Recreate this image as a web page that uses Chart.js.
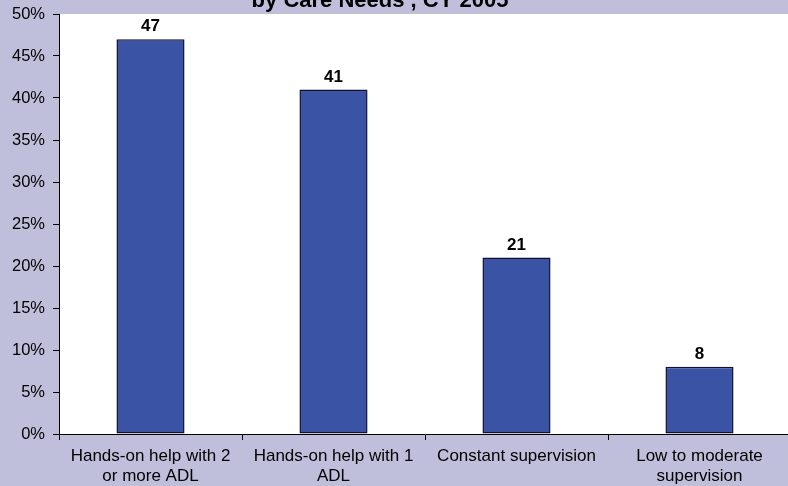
<!DOCTYPE html>
<html><head><meta charset="utf-8">
<script src="https://cdn.jsdelivr.net/npm/chart.js@4"></script>
<style>html,body{margin:0;padding:0;overflow:hidden;background:#BFBFDC;}canvas{display:block;}</style>
</head><body>
<canvas id="c" width="792" height="486" style="width:792px;height:486px"></canvas>
<script>
const categories = [
  ['Hands-on help with 2', 'or more ADL'],
  ['Hands-on help with 1', 'ADL'],
  ['Constant supervision'],
  ['Low to moderate', 'supervision']
];
const values = [47, 41, 21, 8];
const titleText = 'by Care Needs , CY 2005';
const FONT = '"Liberation Sans", Arial, sans-serif';

const bgPlugin = {
  id: 'bg',
  beforeDraw(chart) {
    const {ctx, chartArea: a} = chart;
    ctx.save();
    ctx.fillStyle = '#BFBFDC';
    ctx.fillRect(0, 0, chart.width, chart.height);
    ctx.fillStyle = '#FFFFFF';
    ctx.fillRect(a.left, a.top, a.right - a.left, a.bottom - a.top);
    ctx.restore();
  },
  afterDraw(chart) {
    const ctx = chart.ctx;
    ctx.save();
    ctx.font = 'bold 22px ' + FONT;
    ctx.fillStyle = '#000';
    ctx.textAlign = 'center';
    ctx.textBaseline = 'alphabetic';
    ctx.fillText(titleText, 380, 6.5);
    const meta = chart.getDatasetMeta(0);
    ctx.font = 'bold 17px ' + FONT;
    meta.data.forEach((bar, i) => {
      ctx.fillText(String(values[i]), bar.x, bar.y - 8);
    });
    ctx.restore();
  }
};

new Chart(document.getElementById('c'), {
  type: 'bar',
  data: {
    labels: categories,
    datasets: [{
      data: values,
      backgroundColor: '#3A53A4',
      borderColor: '#12122E',
      borderWidth: 1.5,
      borderSkipped: false,
      categoryPercentage: 1,
      barPercentage: 0.372
    }]
  },
  options: {
    responsive: false,
    animation: false,
    devicePixelRatio: 1,
    layout: {padding: {top: 14, left: 0, right: 1, bottom: 0}},
    plugins: {legend: {display: false}, tooltip: {enabled: false}, title: {display: false}},
    scales: {
      x: {
        offset: true,
        grid: {offset: true, drawOnChartArea: false, drawTicks: true, tickLength: 6, color: '#000'},
        border: {display: true, color: '#000', width: 1},
        ticks: {color: '#000', font: {size: 17, family: FONT, lineHeight: 1.18}, padding: 6, maxRotation: 0, autoSkip: false},
        afterFit(s) { s.height = 52; s.paddingLeft = 0; s.paddingRight = 0; }
      },
      y: {
        min: 0, max: 50,
        grid: {drawOnChartArea: false, drawTicks: true, tickLength: 6, color: '#000'},
        border: {display: true, color: '#000', width: 1},
        ticks: {stepSize: 5, color: '#000', padding: 8, font: {size: 16.5, family: FONT}, callback: v => v + '%'},
        afterFit(s) { s.width = 59; s.paddingTop = 0; s.paddingBottom = 0; }
      }
    }
  },
  plugins: [bgPlugin]
});
</script>
</body></html>
